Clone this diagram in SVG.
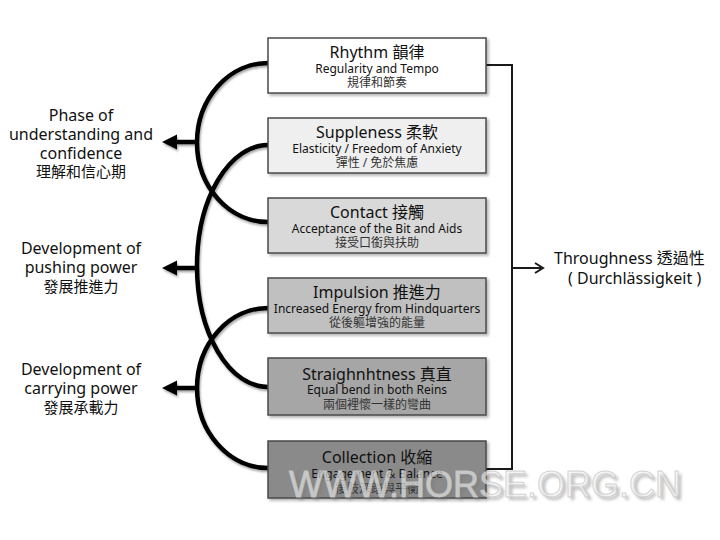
<svg xmlns="http://www.w3.org/2000/svg" width="720" height="540" viewBox="0 0 720 540">
<defs>
<style>
.box{stroke:#4a4a4a;stroke-width:1.5}
.t{font-family:"Noto Sans","Noto Sans CJK TC",sans-serif;text-anchor:middle;fill:#111}
.ti{font-size:16px}
.st{font-size:12px}
.cn{font-size:12px;fill:#333}
.lab{font-family:"Noto Sans","Noto Sans CJK TC",sans-serif;font-size:16px;fill:#111;text-anchor:middle}
.labc{font-size:15px}
.curve{fill:none;stroke:#000;stroke-width:4.5}
.arr{fill:none;stroke:#000;stroke-width:4.5}
.head{fill:#000}
.thin{fill:none;stroke:#1a1a1a;stroke-width:2}
.wmk{font-family:"Liberation Sans",Arial,sans-serif;font-size:36px}
</style>
<filter id="sh" x="-10%" y="-10%" width="130%" height="140%">
<feDropShadow dx="2" dy="2" stdDeviation="1.5" flood-color="#000" flood-opacity="0.3"/>
</filter>
<filter id="csh" x="-10%" y="-10%" width="130%" height="130%">
<feDropShadow dx="1" dy="2" stdDeviation="1" flood-color="#000" flood-opacity="0.35"/>
</filter>
<filter id="wm" x="-5%" y="-20%" width="110%" height="160%">
<feGaussianBlur stdDeviation="1.5"/>
</filter>
</defs>
<rect width="720" height="540" fill="#fff"/>

<g id="connectors">
<g filter="url(#csh)">
<path class="curve" d="M268,63 A71,79.5 0 0 0 268,222"/>
<path class="curve" d="M268,145 A71,121 0 0 0 268,387"/>
<path class="curve" d="M268,308 A71,80 0 0 0 268,468"/>
<path class="arr" d="M198,142 H174"/>
<polygon class="head" points="162,142 177,134.5 177,149.5"/>
<path class="arr" d="M198,268 H174"/>
<polygon class="head" points="162,268 177,260.5 177,275.5"/>
<path class="arr" d="M198,388 H174"/>
<polygon class="head" points="162,388 177,380.5 177,395.5"/>
</g>
<path class="thin" d="M486,65 H512 V469 H486"/>
<path class="thin" d="M512,268 H541"/>
<path class="thin" d="M535,263 L543,268 L535,273"/>
</g>

<g id="rhythm">
<rect class="box" x="268" y="38" width="218" height="55" fill="#ffffff" filter="url(#sh)"/>
<text class="t ti" x="377" y="58">Rhythm 韻律</text>
<text class="t st" x="377" y="73">Regularity and Tempo</text>
<text class="t cn" x="377" y="87">規律和節奏</text>
</g>
<g id="suppleness">
<rect class="box" x="268" y="118" width="218" height="55" fill="#efefef" filter="url(#sh)"/>
<text class="t ti" x="377" y="138">Suppleness 柔軟</text>
<text class="t st" x="377" y="153">Elasticity / Freedom of Anxiety</text>
<text class="t cn" x="377" y="167">彈性 / 免於焦慮</text>
</g>
<g id="contact">
<rect class="box" x="268" y="198" width="218" height="55" fill="#d9d9d9" filter="url(#sh)"/>
<text class="t ti" x="377" y="218">Contact 接觸</text>
<text class="t st" x="377" y="233">Acceptance of the Bit and Aids</text>
<text class="t cn" x="377" y="247">接受口銜與扶助</text>
</g>
<g id="impulsion">
<rect class="box" x="268" y="278" width="218" height="55" fill="#c0c0c0" filter="url(#sh)"/>
<text class="t ti" x="377" y="298">Impulsion 推進力</text>
<text class="t st" x="377" y="313">Increased Energy from Hindquarters</text>
<text class="t cn" x="377" y="327">從後軀增強的能量</text>
</g>
<g id="straightness">
<rect class="box" x="268" y="358" width="218" height="57" fill="#a6a6a6" filter="url(#sh)"/>
<text class="t ti" x="377" y="380">Straighnhtness 真直</text>
<text class="t st" x="377" y="394">Equal bend in both Reins</text>
<text class="t cn" x="377" y="409">兩個裡懷一樣的彎曲</text>
</g>
<g id="collection">
<rect class="box" x="268" y="441" width="218" height="57" fill="#8a8a8a" filter="url(#sh)"/>
<text class="t ti" x="377" y="463">Collection 收縮</text>
<text class="t st" x="377" y="478">Engagement &amp; Balance</text>
<text class="t cn" x="377" y="493">後肢深踏與平衡</text>
</g>

<g id="phase1">
<text class="lab" x="81" y="121">Phase of</text>
<text class="lab" x="81" y="140">understanding and</text>
<text class="lab" x="81" y="159">confidence</text>
<text class="lab labc" x="81" y="177">理解和信心期</text>
</g>
<g id="phase2">
<text class="lab" x="81" y="254">Development of</text>
<text class="lab" x="81" y="273">pushing power</text>
<text class="lab labc" x="81" y="292">發展推進力</text>
</g>
<g id="phase3">
<text class="lab" x="81" y="375">Development of</text>
<text class="lab" x="81" y="394">carrying power</text>
<text class="lab labc" x="81" y="413">發展承載力</text>
</g>
<g id="throughness">
<text class="lab" x="554" y="264" style="text-anchor:start">Throughness 透過性</text>
<text class="lab" x="568" y="284" style="text-anchor:start">( Durchlässigkeit )</text>
</g>

<g id="watermark">
<text class="wmk" x="292" y="500" fill="#777" opacity="0.5" filter="url(#wm)">WWW.HORSE.ORG.CN</text>
<text class="wmk" x="289" y="497" fill="#f4f4f4" fill-opacity="0.6" stroke="#c8c8c8" stroke-opacity="0.8" stroke-width="1">WWW.HORSE.ORG.CN</text>
</g>
</svg>
